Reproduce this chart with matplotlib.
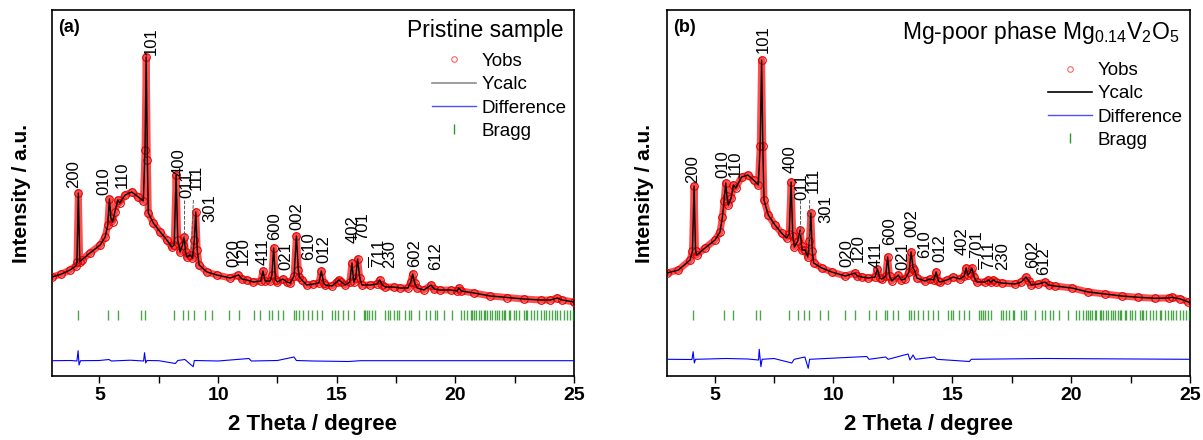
import matplotlib
matplotlib.use("Agg")
import matplotlib.pyplot as plt
from matplotlib.lines import Line2D
from matplotlib.ticker import MultipleLocator

plt.rcParams['font.family'] = ['Liberation Sans', 'DejaVu Sans']
plt.rcParams['mathtext.fontset'] = 'custom'
plt.rcParams['mathtext.rm'] = 'Liberation Sans'
plt.rcParams['mathtext.it'] = 'Liberation Sans:italic'

tt_a = [3.00, 3.40, 3.76, 4.00, 4.05, 4.11, 4.17, 4.25, 4.60, 5.03, 5.24, 5.35, 5.42, 5.48,
        5.55, 5.65, 5.77, 5.85, 6.08, 6.36, 6.64, 6.85, 6.92, 6.97, 7.02, 7.06, 7.27, 7.56,
        7.84, 8.05, 8.15, 8.23, 8.30, 8.40, 8.50, 8.57, 8.63, 8.69, 8.82, 8.92, 9.00, 9.06,
        9.12, 9.20, 9.53, 9.95, 10.51, 10.86, 11.00, 11.21, 11.49, 11.80, 11.89, 11.98, 12.20,
        12.27, 12.34, 12.42, 12.50, 12.73, 12.90, 13.04, 13.20, 13.30, 13.38, 13.43, 13.53,
        13.74, 14.00, 14.25, 14.35, 14.45, 14.52, 14.80, 15.00, 15.08, 15.20, 15.36, 15.55,
        15.64, 15.72, 15.80, 15.88, 15.97, 16.06, 16.42, 16.70, 16.81, 16.92, 17.05, 17.40,
        17.68, 18.00, 18.12, 18.20, 18.28, 18.39, 18.67, 18.98, 19.10, 19.37, 19.80, 20.07,
        20.14, 20.25, 20.78, 21.48, 22.19, 22.89, 23.59, 24.00, 24.30, 24.50, 25.00]
yobs_a = [99, 102, 106, 110, 114, 183, 114, 116, 123, 131, 139, 151, 177, 158,
          154, 164, 176, 173, 181, 184, 179, 175, 226, 319, 216, 163, 153, 144,
          136, 129, 131, 201, 136, 124, 131, 139, 124, 119, 121, 118, 136, 164,
          126, 111, 104, 101, 98, 101, 97, 96, 94, 95, 105, 95, 95,
          101, 128, 96, 94, 97, 94, 93, 100, 140, 106, 99, 96,
          91, 92, 93, 105, 93, 91, 90, 94, 96, 94, 91, 94,
          113, 94, 98, 117, 98, 91, 91, 92, 96, 91, 89, 89,
          88, 88, 94, 102, 93, 88, 86, 91, 87, 86, 86, 85,
          88, 85, 83, 80, 78.5, 77, 76, 76, 78, 76, 74]
diff_tt_a = [3.0, 3.8, 4.05, 4.10, 4.14, 4.2, 5.0, 5.4, 5.5, 6.3, 6.86, 6.90, 6.95, 7.0, 7.5,
             8.2, 8.3, 8.6, 8.95, 9.0, 10.0, 11.3, 11.4, 12.5, 13.2, 13.3, 14.0, 15.5, 16.0, 25.0]
diff_a = [15.3, 15.5, 15.0, 25.3, 11.0, 15.3, 15.5, 16.5, 15.0, 15.8, 15.0, 23.3, 13.0, 15.5, 15.3,
          12.5, 15.5, 16.5, 9.3, 15.5, 15.0, 17.5, 15.0, 15.5, 19.0, 15.5, 15.0, 14.5, 15.3, 15.3]

# ---- panel (b): Mg-poor phase ----
tt_b = [3.00, 3.48, 3.97, 4.07, 4.14, 4.20, 4.25, 4.60, 5.02, 5.23, 5.33, 5.40, 5.47, 5.52,
        5.58, 5.70, 5.79, 5.89, 6.14, 6.40, 6.64, 6.84, 6.92, 6.98, 7.03, 7.08, 7.26, 7.54,
        7.82, 8.03, 8.14, 8.22, 8.29, 8.36, 8.50, 8.60, 8.66, 8.69, 8.81, 8.92, 8.99, 9.05,
        9.11, 9.17, 9.51, 9.93, 10.50, 10.91, 11.00, 11.20, 11.47, 11.75, 11.85, 11.95, 12.04,
        12.20, 12.28, 12.36, 12.46, 12.73, 12.85, 13.01, 13.18, 13.27, 13.35, 13.41, 13.51,
        13.85, 14.05, 14.22, 14.32, 14.42, 14.49, 14.77, 15.04, 15.32, 15.50, 15.58, 15.66,
        15.74, 15.82, 15.92, 16.03, 16.38, 16.52, 16.62, 16.73, 16.85, 17.08, 17.64, 17.90,
        18.10, 18.22, 18.33, 18.61, 18.90, 19.05, 19.32, 20.03, 20.72, 21.43, 22.13, 22.83,
        23.53, 24.10, 24.23, 24.60, 24.93]
yobs_b = [103, 106, 116, 125, 190, 125, 121, 128, 136, 144, 159, 175, 193, 180,
          171, 178, 191, 188, 199, 201, 196, 191, 230, 316, 230, 176, 161, 151,
          143, 138, 142, 194, 140, 129, 135, 146, 130, 126, 126, 119, 135, 163,
          125, 113, 108, 104, 100, 103, 100, 99, 98, 99, 107, 98, 97,
          100, 119, 100, 95, 101, 96, 97, 104, 124, 108, 106, 98,
          95, 97, 96, 104, 95, 94, 96, 99, 97, 100, 108, 101,
          103, 108, 99, 94, 94, 96, 94, 96, 94, 93, 92, 94,
          99, 95, 91, 92, 94, 91, 90, 88, 84, 82, 80, 78.7,
          77.7, 78, 78.7, 77, 74]
diff_tt_b = [3.0, 4.05, 4.10, 4.15, 4.2, 5.5, 6.4, 6.85, 6.88, 6.95, 7.0, 7.5, 8.25, 8.35, 8.8,
             8.94, 9.0, 11.4, 11.5, 12.2, 12.3, 13.14, 13.22, 13.35, 13.45, 14.25, 14.35, 15.72,
             15.8, 18.9, 25.0]
diff_b = [16.7, 16.5, 24.3, 13.0, 16.7, 17.5, 17.0, 16.0, 26.7, 9.3, 16.7, 17.5, 13.0, 16.7, 19.0,
          7.7, 16.7, 19.5, 16.7, 19.0, 16.7, 22.0, 16.0, 21.0, 16.7, 19.0, 16.7, 14.5,
          16.7, 17.5, 16.7]

# Bragg reflection positions (2 theta)
bragg_pos = [4.11, 5.38, 5.77, 6.74, 6.92, 8.15, 8.50, 8.75, 8.99, 9.43, 9.76, 10.47, 10.89,
             11.50, 11.78, 12.16, 12.27, 12.52, 12.73, 13.18, 13.28, 13.39, 13.56, 13.77, 13.96,
             14.17, 14.38, 14.80, 14.94, 15.04, 15.27, 15.48, 15.71, 16.13, 16.21, 16.28, 16.38,
             16.49, 16.63, 17.05, 17.15, 17.26, 17.40, 17.54, 17.61, 17.89, 18.03, 18.11, 18.46,
             18.78, 18.92, 19.13, 19.23, 19.51, 19.87, 20.22, 20.35, 20.50, 20.64, 20.71, 20.78,
             20.89, 20.99, 21.06, 21.20, 21.27, 21.34, 21.45, 21.55, 21.69, 21.76, 21.83, 21.97,
             22.04, 22.11, 22.25, 22.32, 22.46, 22.54, 22.68, 22.89, 22.96, 23.03, 23.17, 23.31,
             23.45, 23.59, 23.73, 23.80, 23.94, 24.08, 24.22, 24.29, 24.43, 24.57, 24.70, 24.85,
             24.95]

# hkl labels
hkl = ['200', '010', '110', '101', '400', '011', '111', '301', '020', '120', '411', '600',
       '021', '002', '610', '012', '402', '701', r'$\overline{7}$11', '230', '602', '612']
hkl_x_a = [3.90, 5.17, 5.94, 7.20, 8.37, 8.68, 9.10, 9.67, 10.67, 11.07, 11.88, 12.37,
           12.85, 13.34, 13.82, 14.47, 15.68, 16.08, 16.73, 17.22, 18.27, 19.16]
hkl_y_a = [188, 181, 188, 321, 200, 178, 186, 154, 109, 111, 111, 136,
           106, 146, 116, 113, 133, 136, 108, 108, 109, 106]
hkl_x_b = [4.08, 5.37, 5.86, 7.05, 8.17, 8.67, 9.15, 9.69, 10.56, 11.03, 11.81, 12.36,
           12.91, 13.30, 13.85, 14.47, 15.41, 16.04, 16.50, 17.13, 18.38, 18.85]
hkl_y_b = [193, 198, 199, 323, 203, 176, 183, 153, 109, 114, 108, 131,
           106, 139, 118, 114, 121, 118, 106, 106, 108, 101]

# dashed leader lines (x_top, y_top, x_bottom, y_bottom)
leaders_a = [(8.58, 176, 8.58, 138), (8.96, 176, 8.86, 119)]
leaders_b = [(8.61, 176, 8.61, 141), (9.00, 176, 8.98, 126)]

fig = plt.figure(figsize=(12.03, 4.40), dpi=100)
ax_a = fig.add_axes([52 / 1203, 64 / 440, 522 / 1203, 366 / 440])
ax_b = fig.add_axes([667 / 1203, 64 / 440, 523 / 1203, 366 / 440])


def draw_panel(ax, tt, yobs, dtt, dy, hx, hy, leaders, tag, title, legend_top, calc_leg):
    # observed points: dense band of open circles
    ax.plot(tt, yobs, color='red', lw=5, alpha=0.7, solid_joinstyle='round',
            solid_capstyle='round', zorder=2)
    ax.plot(tt, yobs, 'o', mfc='none', mec='#e00000', ms=5.5, mew=0.8, zorder=3)
    ax.plot(tt, yobs, color='black', lw=1.0, zorder=4)
    ax.plot(dtt, dy, color='#0000ff', lw=0.8, zorder=3)
    ax.plot(bragg_pos, [61] * len(bragg_pos), '|', color='#108a10', ms=7.5, mew=1.0,
            alpha=0.75, zorder=3)

    for lab, x, y in zip(hkl, hx, hy):
        ax.text(x, y, lab, rotation=90, ha='center', va='bottom', fontsize=12, zorder=5)
    for x0, y0, x1, y1 in leaders:
        ax.plot([x0, x1], [y0, y1], ls='--', color='0.35', lw=0.7, zorder=5)

    ax.set_xlim(3, 25)
    ax.set_ylim(0, 366)
    ax.set_yticks([])
    ax.xaxis.set_major_locator(MultipleLocator(5))
    ax.xaxis.set_minor_locator(MultipleLocator(2.5))
    ax.tick_params(axis='x', which='both', direction='out', length=5, width=1.0,
                   labelsize=14, pad=3)
    for lbl in ax.get_xticklabels():
        lbl.set_fontweight('bold')
    for sp in ax.spines.values():
        sp.set_linewidth(1.2)

    ax.text(0.012, 0.975, tag, transform=ax.transAxes, fontsize=13, fontweight='bold',
            ha='left', va='top')
    ax.text(0.98, 0.975, title, transform=ax.transAxes, fontsize=16.5, ha='right', va='top')

    handles = [
        Line2D([], [], ls='none', marker='o', mfc='none', mec='red', ms=4, mew=0.7, alpha=0.7),
        Line2D([], [], color=calc_leg, lw=1.2),
        Line2D([], [], color='#5050ff', lw=1.0),
        Line2D([], [], ls='none', marker='|', color='#2a9a2a', ms=7, mew=1.0),
    ]
    ax.legend(handles, ['Yobs', 'Ycalc', 'Difference', 'Bragg'], loc='upper right',
              bbox_to_anchor=(0.985, legend_top), frameon=False, fontsize=13.5,
              borderpad=0, borderaxespad=0, labelspacing=0.33, handlelength=2.3,
              handletextpad=0.3)


draw_panel(ax_a, tt_a, yobs_a, diff_tt_a, diff_a, hkl_x_a, hkl_y_a, leaders_a,
           '(a)', 'Pristine sample', 0.883, '0.55')
draw_panel(ax_b, tt_b, yobs_b, diff_tt_b, diff_b, hkl_x_b, hkl_y_b, leaders_b,
           '(b)', r'Mg-poor phase Mg$_{0.14}$V$_2$O$_5$', 0.858, 'black')

fig.text(22 / 1203, 0.56, 'Intensity / a.u.', rotation=90, ha='center', va='center',
         fontsize=15, fontweight='bold')
fig.text(645 / 1203, 0.56, 'Intensity / a.u.', rotation=90, ha='center', va='center',
         fontsize=15, fontweight='bold')
fig.text(313 / 1203, 16 / 440, '2 Theta / degree', ha='center', va='center',
         fontsize=16, fontweight='bold')
fig.text(928 / 1203, 16 / 440, '2 Theta / degree', ha='center', va='center',
         fontsize=16, fontweight='bold')

fig.savefig('out.png', dpi=100)
